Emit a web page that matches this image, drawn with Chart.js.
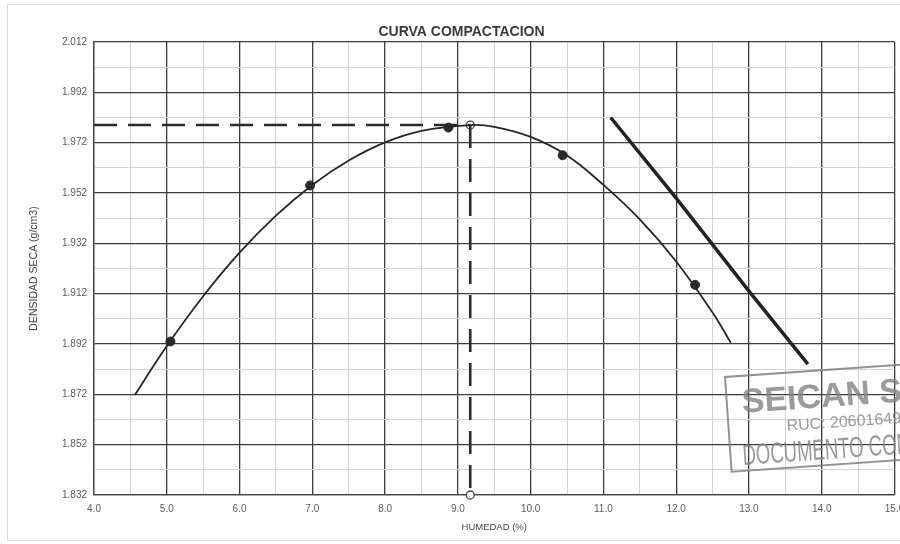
<!DOCTYPE html>
<html>
<head>
<meta charset="utf-8">
<script src="https://cdn.jsdelivr.net/npm/chart.js@4/dist/chart.umd.min.js"></script>
<style>
  html, body { margin: 0; padding: 0; background: #fff; }
  #wrap { width: 900px; height: 544px; position: relative; }
</style>
</head>
<body>
<div id="wrap"><canvas id="curva"></canvas></div>
<script>
// Ejes: humedad (%) y densidad seca (g/cm3)
const ticksX = [4.0, 4.5, 5.0, 5.5, 6.0, 6.5, 7.0, 7.5, 8.0, 8.5, 9.0, 9.5, 10.0, 10.5,
                11.0, 11.5, 12.0, 12.5, 13.0, 13.5, 14.0, 14.5, 15.0];
const ticksY = [1.832, 1.842, 1.852, 1.862, 1.872, 1.882, 1.892, 1.902, 1.912, 1.922,
                1.932, 1.942, 1.952, 1.962, 1.972, 1.982, 1.992, 2.002, 2.012];

// Ensayos Proctor
const humedadEnsayo = [5.05, 6.97, 8.87, 10.44, 12.26];
const densidadEnsayo = [1.893, 1.955, 1.978, 1.967, 1.9155];

// Curva ajustada
const curvaX = [4.56, 5.0, 5.5, 6.0, 6.5, 7.0, 7.5, 8.0, 8.5, 9.17, 9.5, 10.0, 10.5, 11.0, 11.5, 12.0, 12.5, 12.75];
const curvaY = [1.8717, 1.8912, 1.911, 1.9283, 1.943, 1.9552, 1.9649, 1.9721, 1.9767, 1.979,
                1.9783, 1.9743, 1.9669, 1.9552, 1.9415, 1.9248, 1.9045, 1.8925];

// Linea de saturacion
const saturacionX = [11.10, 12.0, 13.0, 13.81];
const saturacionY = [1.982, 1.950, 1.913, 1.884];

// Optimo contenido de humedad / maxima densidad seca
const humedadOptima = 9.17;
const densidadMaxima = 1.979;
const humedadMin = 4.0;
const densidadMin = 1.832;

const pares = (xs, ys) => xs.map((x, i) => ({ x: x, y: ys[i] }));
const esMayorX = v => Math.abs(v - Math.round(v)) < 1e-6;
const esMayorY = i => i % 2 === 0;

// Sello sobre el grafico
const selloPlugin = {
    id: 'sello',
    afterDatasetsDraw(chart) {
        const ctx = chart.ctx;
        ctx.save();
        ctx.translate(725, 377);
        ctx.rotate(-4 * Math.PI / 180);
        ctx.strokeStyle = 'rgba(120,120,120,0.8)';
        ctx.lineWidth = 2;
        ctx.strokeRect(0, 0, 240, 95);
        ctx.fillStyle = 'rgba(130,130,130,0.8)';
        ctx.textBaseline = 'alphabetic';
        ctx.font = 'bold 34px "Liberation Sans", Arial, sans-serif';
        ctx.fillText('SEICAN S', 15, 37);
        ctx.font = '16px "Liberation Sans", Arial, sans-serif';
        ctx.fillText('RUC: 20601649', 58, 58);
        ctx.save();
        ctx.translate(12, 89);
        ctx.scale(0.64, 1);
        ctx.font = '29px "Liberation Sans", Arial, sans-serif';
        ctx.fillText('DOCUMENTO CONTROLADO', 0, 0);
        ctx.restore();
        ctx.restore();
    }
};

// Marco exterior
const marcoPlugin = {
    id: 'marco',
    beforeDraw(chart) {
        const ctx = chart.ctx;
        ctx.save();
        ctx.strokeStyle = '#d8d8d8';
        ctx.lineWidth = 1;
        ctx.strokeRect(7.5, 4.5, 900, 536);
        ctx.restore();
    }
};

const fuente = '"Liberation Sans", Arial, sans-serif';

new Chart(document.getElementById('curva'), {
    type: 'scatter',
    data: {
        datasets: [
            {
                label: 'Curva',
                data: pares(curvaX, curvaY),
                showLine: true,
                borderColor: '#262626',
                borderWidth: 1.8,
                tension: 0.4,
                pointRadius: 0
            },
            {
                label: 'Saturacion',
                data: pares(saturacionX, saturacionY),
                showLine: true,
                borderColor: '#222',
                borderWidth: 3.5,
                tension: 0,
                pointRadius: 0
            },
            {
                label: 'Horizontal',
                data: [{ x: humedadMin, y: densidadMaxima }, { x: humedadOptima, y: densidadMaxima }],
                showLine: true,
                borderColor: '#2a2a2a',
                borderWidth: 2.6,
                borderDash: [23, 11],
                pointRadius: 0
            },
            {
                label: 'Vertical',
                data: [{ x: humedadOptima, y: densidadMaxima }, { x: humedadOptima, y: densidadMin }],
                showLine: true,
                borderColor: '#2a2a2a',
                borderWidth: 2.6,
                borderDash: [23, 11],
                pointRadius: 0
            },
            {
                label: 'Ensayos',
                data: pares(humedadEnsayo, densidadEnsayo),
                pointRadius: 4.5,
                pointBackgroundColor: '#2b2b2b',
                pointBorderColor: '#2b2b2b',
                pointBorderWidth: 1
            },
            {
                label: 'Optimo',
                data: [{ x: humedadOptima, y: densidadMaxima }, { x: humedadOptima, y: densidadMin }],
                pointRadius: 4,
                pointBackgroundColor: '#fff',
                pointBorderColor: '#444',
                pointBorderWidth: 1.3,
                clip: false
            }
        ]
    },
    options: {
        responsive: true,
        maintainAspectRatio: false,
        animation: false,
        layout: { padding: { left: 28, right: 5, top: 0, bottom: 0 } },
        plugins: {
            legend: { display: false },
            tooltip: { enabled: false },
            title: {
                display: true,
                text: 'CURVA COMPACTACION',
                color: '#3a3a3a',
                font: { family: fuente, size: 14, weight: 'bold' },
                padding: { top: 23.6, bottom: 1.6 }
            }
        },
        scales: {
            x: {
                type: 'linear',
                min: humedadMin,
                max: 15.0,
                afterBuildTicks: scale => { scale.ticks = ticksX.map(v => ({ value: v })); },
                afterFit: scale => { scale.height = 49; scale.paddingLeft = 0; scale.paddingRight = 0; },
                border: { color: '#444', width: 1.3 },
                grid: {
                    drawTicks: false,
                    color: ctx => esMayorX(ctx.tick.value) ? '#3c3c3c' : '#d4d4d4',
                    lineWidth: ctx => esMayorX(ctx.tick.value) ? 1.3 : 1
                },
                ticks: {
                    autoSkip: false,
                    maxRotation: 0,
                    padding: 8,
                    color: '#5a5a5a',
                    font: { family: fuente, size: 10 },
                    callback: v => esMayorX(v) ? v.toFixed(1) : ''
                },
                title: {
                    display: true,
                    text: 'HUMEDAD (%)',
                    color: '#444',
                    font: { family: fuente, size: 9.5 },
                    padding: { top: 0, bottom: 11.3 }
                }
            },
            y: {
                type: 'linear',
                min: densidadMin,
                max: 2.012,
                afterBuildTicks: scale => { scale.ticks = ticksY.map(v => ({ value: v })); },
                afterFit: scale => { scale.width = 66; scale.paddingTop = 0; scale.paddingBottom = 0; },
                border: { color: '#444', width: 1.3 },
                grid: {
                    drawTicks: false,
                    color: ctx => esMayorY(ctx.index) ? '#3c3c3c' : '#d4d4d4',
                    lineWidth: ctx => esMayorY(ctx.index) ? 1.3 : 1
                },
                ticks: {
                    autoSkip: false,
                    padding: 7,
                    color: '#5a5a5a',
                    font: { family: fuente, size: 10 },
                    callback: (v, i) => esMayorY(i) ? v.toFixed(3) : ''
                },
                title: {
                    display: true,
                    text: 'DENSIDAD SECA (g/cm3)',
                    color: '#444',
                    font: { family: fuente, size: 10.5 },
                    padding: { top: 0, bottom: 4 }
                }
            }
        }
    },
    plugins: [marcoPlugin, selloPlugin]
});
</script>
</body>
</html>
